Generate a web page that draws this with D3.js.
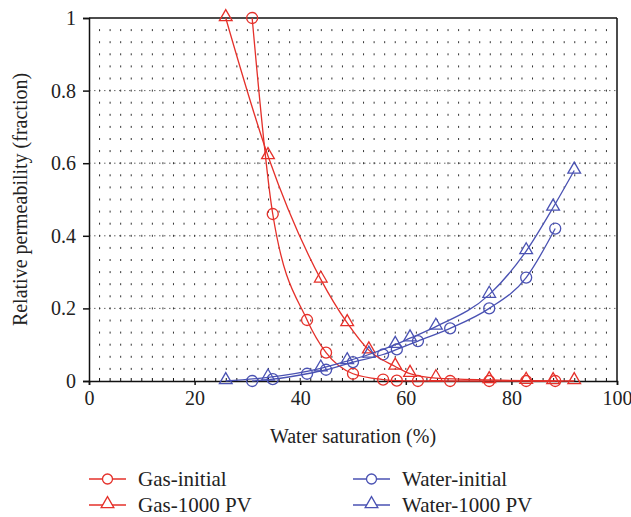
<!DOCTYPE html>
<html>
<head>
<meta charset="utf-8">
<script src="https://cdn.jsdelivr.net/npm/d3@7"></script>
<style>
  body { margin: 0; background: #fff; }
  text { font-family: 'Liberation Serif', 'Times New Roman', serif; fill: #222; }
</style>
</head>
<body>
<div id="chart"></div>
<script>
const width = 631
const height = 517
const margin = { top: 18, left: 89, right: 14, bottom: 136 }

// water saturation (%) for each measured point
const swInitial = [30.9, 34.8, 41.3, 44.9, 50.0, 55.7, 58.3, 62.3, 68.4, 75.8, 82.8, 88.3]
const sw1000 = [25.9, 33.9, 43.9, 48.9, 53.0, 58.0, 60.8, 65.7, 75.8, 82.8, 87.9, 91.9]

const gasInitial = [1.0, 0.46, 0.168, 0.078, 0.02, 0.004, 0.001, 0, 0, 0, 0, 0]
const waterInitial = [0, 0.005, 0.02, 0.031, 0.052, 0.073, 0.087, 0.11, 0.145, 0.2, 0.285, 0.42]
const gas1000 = [1.0, 0.62, 0.28, 0.16, 0.085, 0.04, 0.02, 0.008, 0.003, 0.001, 0, 0]
const water1000 = [0, 0.01, 0.035, 0.055, 0.073, 0.1, 0.118, 0.15, 0.238, 0.358, 0.478, 0.58]

const xTicks = [0, 20, 40, 60, 80, 100]
const yTicks = [0, 0.2, 0.4, 0.6, 0.8, 1]

const red = '#e5302a'
const blue = '#4a52b3'

const series = [
  { name: 'Gas-initial', sw: swInitial, kr: gasInitial, color: red, marker: 'circle' },
  { name: 'Water-initial', sw: swInitial, kr: waterInitial, color: blue, marker: 'circle' },
  { name: 'Gas-1000 PV', sw: sw1000, kr: gas1000, color: red, marker: 'triangle' },
  { name: 'Water-1000 PV', sw: sw1000, kr: water1000, color: blue, marker: 'triangle' }
]

const svg = d3
  .select('#chart')
  .append('svg')
  .attr('width', width)
  .attr('height', height)

const plotW = 617 - margin.left
const plotH = 381 - margin.top

const g = svg
  .append('g')
  .attr('transform', 'translate(' + margin.left + ',' + margin.top + ')')

const xScale = d3.scaleLinear().domain([0, 100]).range([0, plotW])
const yScale = d3.scaleLinear().domain([0, 1]).range([plotH, 0])

// dotted grid: columns every 2 %, rows every 1/30
const gridX = d3.range(2, 100, 2)
const gridY = d3.range(1, 30).map(i => i / 30)
const grid = g.append('g').attr('class', 'grid')
gridY.forEach(yv => {
  const major = Math.abs(yv * 5 - Math.round(yv * 5)) < 1e-6
  if (major) {
    grid
      .append('line')
      .attr('x1', 0)
      .attr('x2', plotW)
      .attr('y1', yScale(yv))
      .attr('y2', yScale(yv))
      .attr('stroke', '#444')
      .attr('stroke-width', 0.8)
      .attr('stroke-dasharray', '1.5,3.5')
  }
  gridX.forEach(xv => {
    grid
      .append('line')
      .attr('x1', xScale(xv))
      .attr('x2', xScale(xv))
      .attr('y1', yScale(yv) - 1)
      .attr('y2', yScale(yv) + 1)
      .attr('stroke', '#333')
      .attr('stroke-width', 1)
  })
})

// frame
g.append('line').attr('x1', 0).attr('x2', plotW).attr('y1', 0).attr('y2', 0)
  .attr('stroke', '#111').attr('stroke-width', 1.5)
g.append('line').attr('x1', plotW).attr('x2', plotW).attr('y1', 0).attr('y2', plotH)
  .attr('stroke', '#111').attr('stroke-width', 1.5)

// minor x ticks (inward)
g.selectAll('.minor-x')
  .data(gridX)
  .enter()
  .append('line')
  .attr('class', 'minor-x')
  .attr('x1', d => xScale(d))
  .attr('x2', d => xScale(d))
  .attr('y1', plotH)
  .attr('y2', plotH - 3)
  .attr('stroke', '#111')

const xAxis = g
  .append('g')
  .attr('transform', 'translate(0,' + plotH + ')')
  .call(d3.axisBottom(xScale).tickValues(xTicks).tickSize(4).tickPadding(6).tickFormat(d3.format('d')))
const yAxis = g
  .append('g')
  .call(d3.axisLeft(yScale).tickValues(yTicks).tickSize(6).tickPadding(7).tickFormat(d => (d === 0 || d === 1 ? d : d.toFixed(1))))

;[xAxis, yAxis].forEach(ax => {
  ax.select('.domain').attr('stroke', '#111').attr('stroke-width', 1.5)
  ax.selectAll('.tick line').attr('stroke', '#111').attr('stroke-width', 1.5)
  ax.selectAll('text')
    .attr('font-family', "'Liberation Serif', serif")
    .attr('font-size', 20)
    .attr('fill', '#222')
})

// curves
const line = d3
  .line()
  .x(d => xScale(d[0]))
  .y(d => yScale(d[1]))
  .curve(d3.curveMonotoneX)

const triangle = d3.symbol().type(d3.symbolTriangle).size(70)

series.forEach(s => {
  const pts = s.sw.map((v, i) => [v, s.kr[i]])
  g.append('path')
    .datum(pts)
    .attr('d', line)
    .attr('fill', 'none')
    .attr('stroke', s.color)
    .attr('stroke-width', 1.3)
  const marks = g.append('g')
  if (s.marker === 'circle') {
    marks
      .selectAll('circle')
      .data(pts)
      .enter()
      .append('circle')
      .attr('cx', d => xScale(d[0]))
      .attr('cy', d => yScale(d[1]))
      .attr('r', 5.5)
      .attr('fill', 'none')
      .attr('stroke', s.color)
      .attr('stroke-width', 1.3)
  } else {
    marks
      .selectAll('path')
      .data(pts)
      .enter()
      .append('path')
      .attr('d', triangle)
      .attr('transform', d => 'translate(' + xScale(d[0]) + ',' + (yScale(d[1]) - 1) + ')')
      .attr('fill', 'none')
      .attr('stroke', s.color)
      .attr('stroke-width', 1.3)
  }
})

// axis titles
svg
  .append('text')
  .attr('x', margin.left + plotW / 2)
  .attr('y', 443)
  .attr('text-anchor', 'middle')
  .attr('font-size', 20)
  .text('Water saturation (%)')

svg
  .append('text')
  .attr('transform', 'translate(27,' + (margin.top + plotH / 2) + ') rotate(-90)')
  .attr('text-anchor', 'middle')
  .attr('font-size', 20)
  .text('Relative permeability (fraction)')

// legend
const legendPos = [
  { x: 89, y: 479 },
  { x: 353, y: 479 },
  { x: 89, y: 505 },
  { x: 353, y: 505 }
]
series.forEach((s, i) => {
  const p = legendPos[i]
  const lg = svg.append('g').attr('transform', 'translate(' + p.x + ',' + p.y + ')')
  lg.append('line')
    .attr('x1', 0)
    .attr('x2', 37)
    .attr('stroke', s.color)
    .attr('stroke-width', 1.3)
  if (s.marker === 'circle') {
    lg.append('circle').attr('cx', 18.5).attr('r', 5).attr('fill', '#fff')
      .attr('stroke', s.color).attr('stroke-width', 1.3)
  } else {
    lg.append('path').attr('d', triangle).attr('transform', 'translate(18.5,-1)')
      .attr('fill', '#fff').attr('stroke', s.color).attr('stroke-width', 1.3)
  }
  lg.append('text')
    .attr('x', 49)
    .attr('dy', '0.32em')
    .attr('font-size', 21)
    .text(s.name)
})
</script>
</body>
</html>
